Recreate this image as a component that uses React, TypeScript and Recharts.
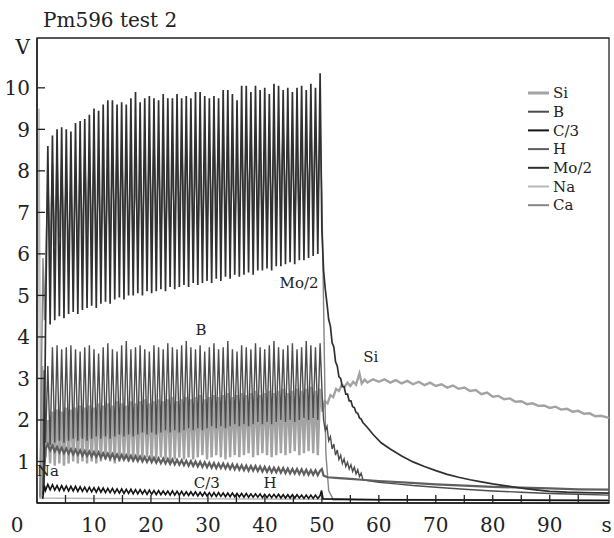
import React from 'react';
import { LineChart, Line, XAxis, YAxis, ReferenceArea, ReferenceDot } from 'recharts';

const FONT = '"DejaVu Serif", serif';

// peak times of the pulsed part (0-50 s); every trough sits half a cycle before its peak
const CYCLE_T = [
  1.9, 2.71, 3.52, 4.33, 5.14, 5.95, 6.76, 7.57, 8.38, 9.19,
  10.0, 10.81, 11.62, 12.43, 13.24, 14.05, 14.86, 15.67, 16.48, 17.29,
  18.1, 18.91, 19.72, 20.53, 21.34, 22.15, 22.96, 23.77, 24.58, 25.39,
  26.2, 27.01, 27.82, 28.63, 29.44, 30.25, 31.06, 31.87, 32.68, 33.49,
  34.3, 35.11, 35.92, 36.73, 37.54, 38.35, 39.16, 39.97, 40.78, 41.59,
  42.4, 43.21, 44.02, 44.83, 45.64, 46.45, 47.26, 48.07, 48.88, 49.69,
];
const HALF = 0.405;

// Mo/2
const MO2_HIGH = [
  8.6, 8.85, 9.0, 9.05, 9.0, 8.95, 9.15, 9.2, 9.25, 9.35,
  9.5, 9.45, 9.6, 9.7, 9.7, 9.6, 9.65, 9.6, 9.75, 9.9,
  9.65, 9.75, 9.8, 9.75, 9.7, 9.85, 9.75, 9.75, 9.85, 9.75,
  9.8, 9.75, 9.9, 9.9, 9.8, 9.75, 9.8, 9.75, 9.95, 9.95,
  9.85, 9.7, 10.05, 10.05, 9.9, 10.05, 9.95, 10.0, 9.85, 10.1,
  10.05, 9.95, 10.0, 9.9, 10.0, 10.05, 9.95, 10.1, 10.0, 10.35,
];
const MO2_LOW = [
  4.2, 4.3, 4.4, 4.5, 4.45, 4.55, 4.6, 4.55, 4.65, 4.7,
  4.75, 4.7, 4.8, 4.85, 4.8, 4.9, 4.95, 4.9, 5.0, 5.0,
  5.05, 5.0, 5.1, 5.05, 5.1, 5.15, 5.1, 5.2, 5.15, 5.2,
  5.25, 5.2, 5.3, 5.25, 5.3, 5.35, 5.3, 5.4, 5.35, 5.45,
  5.4, 5.5, 5.45, 5.5, 5.55, 5.5, 5.6, 5.6, 5.65, 5.6,
  5.7, 5.7, 5.75, 5.8, 5.75, 5.85, 5.85, 5.9, 5.95, 6.0,
];
const MO2_HEAD: [number, number][] = [[1.2, 0.3]];
const MO2_TAIL: [number, number][] = [
  [50.0, 6.6], [50.3, 5.6], [50.6, 5.15], [50.9, 4.8], [51.2, 4.42], [51.5, 4.26],
  [51.8, 3.86], [52.1, 3.76], [52.4, 3.4], [52.7, 3.3], [53.0, 3.04], [53.3, 3.0],
  [53.6, 2.8], [53.9, 2.8], [54.2, 2.62], [54.5, 2.62], [54.8, 2.46], [55.1, 2.46],
  [55.4, 2.32], [55.7, 2.3], [56.0, 2.18], [56.3, 2.16], [56.6, 2.05], [56.9, 2.02],
  [57.2, 1.94], [58, 1.82], [59, 1.65], [60.4, 1.45], [62, 1.3], [64, 1.13],
  [66, 0.99], [68, 0.88], [70, 0.78], [72, 0.69], [74, 0.62], [76, 0.56],
  [78, 0.51], [80, 0.46], [82, 0.42], [84, 0.38], [86, 0.34], [88, 0.31],
  [90, 0.28], [93, 0.26], [96, 0.25], [100.4, 0.24],
];

// Ca
const CA_HIGH = [
  7.9, 8.2, 8.4, 8.3, 8.0, 7.8, 7.9, 8.2, 8.5, 8.6,
  8.4, 8.1, 7.9, 8.0, 8.3, 8.6, 8.7, 8.5, 8.2, 8.0,
  8.1, 8.4, 8.7, 8.8, 8.6, 8.3, 8.1, 8.2, 8.5, 8.8,
  8.9, 8.7, 8.4, 8.2, 8.3, 8.6, 8.9, 9.0, 8.8, 8.5,
  8.3, 8.4, 8.7, 9.0, 9.1, 8.9, 8.6, 8.4, 8.5, 8.8,
  9.1, 9.2, 9.0, 8.7, 8.5, 8.6, 8.9, 9.2, 9.2, 9.0,
];
const CA_LOW = [
  5.6, 5.9, 6.2, 6.4, 6.2, 5.9, 5.8, 6.0, 6.3, 6.5,
  6.4, 6.1, 5.9, 6.0, 6.3, 6.6, 6.7, 6.5, 6.2, 6.0,
  6.1, 6.4, 6.7, 6.8, 6.6, 6.3, 6.1, 6.2, 6.5, 6.8,
  6.9, 6.7, 6.4, 6.2, 6.3, 6.6, 6.9, 7.0, 6.8, 6.5,
  6.3, 6.4, 6.7, 7.0, 7.1, 6.9, 6.6, 6.4, 6.5, 6.8,
  7.1, 7.2, 7.0, 6.7, 6.5, 6.6, 6.9, 7.2, 7.2, 7.0,
];
const CA_HEAD: [number, number][] = [[0.5, 0.15], [1.05, 5.9], [1.3, 4.4]];
const CA_TAIL: [number, number][] = [[50.0, 7.4], [50.3, 4.8], [50.7, 1.2], [51.2, 0.3], [52, 0.08], [100.4, 0.06]];

// B
const B_HIGH = [
  3.3, 3.75, 3.8, 3.7, 3.75, 3.8, 3.7, 3.65, 3.75, 3.8,
  3.7, 3.6, 3.75, 3.85, 3.7, 3.65, 3.8, 3.9, 3.7, 3.75,
  3.8, 3.7, 3.65, 3.8, 3.75, 3.7, 3.85, 3.75, 3.7, 3.8,
  3.9, 3.75, 3.7, 3.8, 3.65, 3.75, 3.85, 3.7, 3.75, 3.9,
  3.7, 3.65, 3.8, 3.75, 3.7, 3.85, 3.75, 3.7, 3.8, 3.9,
  3.75, 3.7, 3.8, 3.85, 3.7, 3.75, 3.9, 3.8, 3.75, 3.85,
];
const B_LOW = [
  1.45, 1.4, 1.45, 1.5, 1.45, 1.5, 1.55, 1.5, 1.55, 1.5,
  1.55, 1.6, 1.55, 1.6, 1.55, 1.6, 1.65, 1.6, 1.65, 1.6,
  1.65, 1.7, 1.65, 1.7, 1.65, 1.7, 1.75, 1.7, 1.75, 1.7,
  1.75, 1.8, 1.75, 1.8, 1.75, 1.8, 1.85, 1.8, 1.85, 1.8,
  1.85, 1.9, 1.85, 1.9, 1.85, 1.9, 1.95, 1.9, 1.95, 1.9,
  1.95, 2.0, 1.95, 2.0, 1.95, 2.0, 2.05, 2.0, 2.05, 2.0,
];
const B_HEAD: [number, number][] = [[1.0, 0.2], [1.25, 3.2]];
const B_TAIL: [number, number][] = [
  [50.05, 2.6], [50.3, 2.0], [50.6, 1.75], [50.9, 1.85], [51.2, 1.5], [51.5, 1.6],
  [51.8, 1.3], [52.1, 1.42], [52.4, 1.15], [52.7, 1.28], [53.0, 1.05], [53.3, 1.15],
  [53.6, 0.95], [53.9, 1.06], [54.2, 0.88], [54.5, 0.98], [54.8, 0.82], [55.1, 0.92],
  [55.4, 0.76], [55.7, 0.86], [56.0, 0.7], [56.3, 0.8], [56.6, 0.64], [56.9, 0.72],
  [57.2, 0.56], [58, 0.54], [60, 0.5], [63, 0.46], [66, 0.42], [70, 0.38],
  [75, 0.33], [80, 0.29], [85, 0.26], [90, 0.23], [95, 0.21], [100.4, 0.19],
];

// Si
const SI_HIGH = [
  2.0, 2.2, 2.25, 2.2, 2.3, 2.25, 2.3, 2.35, 2.3, 2.35,
  2.3, 2.4, 2.35, 2.4, 2.35, 2.45, 2.4, 2.35, 2.45, 2.4,
  2.45, 2.5, 2.4, 2.45, 2.5, 2.45, 2.5, 2.55, 2.45, 2.5,
  2.55, 2.5, 2.55, 2.6, 2.5, 2.55, 2.6, 2.55, 2.6, 2.65,
  2.55, 2.6, 2.65, 2.6, 2.65, 2.7, 2.6, 2.65, 2.7, 2.65,
  2.7, 2.75, 2.65, 2.7, 2.75, 2.7, 2.75, 2.8, 2.7, 2.75,
];
const SI_LOW = [
  1.1, 0.95, 0.9, 0.95, 0.9, 0.95, 1.0, 0.95, 1.0, 0.95,
  1.0, 0.95, 1.0, 1.05, 1.0, 0.95, 1.0, 1.05, 1.0, 1.05,
  1.0, 1.05, 1.1, 1.0, 1.05, 1.1, 1.05, 1.0, 1.05, 1.1,
  1.05, 1.1, 1.05, 1.1, 1.15, 1.05, 1.1, 1.15, 1.1, 1.05,
  1.1, 1.15, 1.1, 1.15, 1.2, 1.1, 1.15, 1.2, 1.15, 1.1,
  1.15, 1.2, 1.15, 1.2, 1.25, 1.15, 1.2, 1.25, 1.2, 1.15,
];
const SI_HEAD: [number, number][] = [[0.6, 0.1], [0.9, 3.3], [1.2, 1.4]];
const SI_TAIL: [number, number][] = [
  [50.1, 2.2], [50.5, 2.45], [51, 2.4], [51.5, 2.6], [52, 2.55], [52.5, 2.75],
  [53, 2.7], [53.5, 2.85], [54, 2.8], [54.5, 2.9], [55, 2.82], [55.5, 2.92],
  [56, 2.85], [56.6, 3.12], [57, 2.88], [57.5, 2.97], [58, 2.9], [59, 2.98],
  [60, 2.92], [61, 2.98], [62, 2.9], [63, 2.96], [64, 2.88], [65, 2.94],
  [66, 2.86], [67, 2.92], [68, 2.84], [69, 2.9], [70, 2.82], [71, 2.86],
  [72, 2.78], [73, 2.83], [74, 2.75], [75, 2.78], [76, 2.7], [77, 2.72],
  [78, 2.62], [79, 2.66], [80, 2.56], [81, 2.58], [82, 2.5], [83, 2.52],
  [84, 2.44], [85, 2.45], [86, 2.38], [87, 2.4], [88, 2.34], [89, 2.35],
  [90, 2.29], [91, 2.32], [92, 2.25], [93, 2.27], [94, 2.2], [95, 2.22],
  [96, 2.15], [97, 2.16], [98, 2.09], [99, 2.1], [100.4, 2.05],
];

// H
const H_HIGH = [
  1.42, 1.38, 1.35, 1.33, 1.31, 1.3, 1.28, 1.27, 1.25, 1.24,
  1.23, 1.22, 1.2, 1.19, 1.18, 1.17, 1.16, 1.15, 1.14, 1.13,
  1.12, 1.11, 1.1, 1.09, 1.08, 1.07, 1.06, 1.05, 1.04, 1.03,
  1.02, 1.01, 1.0, 0.99, 0.98, 0.97, 0.96, 0.95, 0.95, 0.94,
  0.93, 0.92, 0.91, 0.9, 0.89, 0.89, 0.88, 0.87, 0.86, 0.85,
  0.85, 0.84, 0.83, 0.82, 0.82, 0.81, 0.8, 0.79, 0.79, 0.78,
];
const H_LOW = [
  1.3, 1.27, 1.24, 1.22, 1.2, 1.19, 1.17, 1.16, 1.14, 1.13,
  1.12, 1.11, 1.09, 1.08, 1.07, 1.06, 1.05, 1.04, 1.03, 1.02,
  1.01, 1.0, 0.99, 0.98, 0.97, 0.96, 0.95, 0.94, 0.93, 0.92,
  0.91, 0.9, 0.89, 0.88, 0.87, 0.86, 0.85, 0.84, 0.84, 0.83,
  0.82, 0.81, 0.8, 0.79, 0.78, 0.78, 0.77, 0.76, 0.75, 0.74,
  0.74, 0.73, 0.72, 0.71, 0.71, 0.7, 0.69, 0.68, 0.68, 0.67,
];
const H_HEAD: [number, number][] = [[1.1, 0.3]];
const H_TAIL: [number, number][] = [
  [50.0, 0.82], [50.3, 0.66], [51, 0.62], [53, 0.6], [55, 0.58], [57, 0.56],
  [60, 0.53], [65, 0.49], [70, 0.45], [75, 0.42], [80, 0.39], [85, 0.37],
  [90, 0.35], [95, 0.33], [100.4, 0.32],
];

// C/3
const C3_HIGH = [
  0.45, 0.44, 0.42, 0.42, 0.41, 0.4, 0.4, 0.39, 0.38, 0.38,
  0.37, 0.37, 0.36, 0.35, 0.35, 0.34, 0.34, 0.33, 0.33, 0.32,
  0.32, 0.31, 0.31, 0.3, 0.3, 0.29, 0.29, 0.29, 0.28, 0.28,
  0.27, 0.27, 0.27, 0.26, 0.26, 0.25, 0.25, 0.25, 0.24, 0.24,
  0.24, 0.23, 0.23, 0.23, 0.22, 0.22, 0.22, 0.21, 0.21, 0.21,
  0.21, 0.2, 0.2, 0.2, 0.2, 0.19, 0.19, 0.19, 0.19, 0.18,
];
const C3_LOW = [
  0.3, 0.32, 0.31, 0.3, 0.3, 0.29, 0.29, 0.28, 0.28, 0.27,
  0.27, 0.26, 0.26, 0.25, 0.25, 0.24, 0.24, 0.23, 0.23, 0.22,
  0.22, 0.22, 0.21, 0.21, 0.2, 0.2, 0.2, 0.19, 0.19, 0.19,
  0.18, 0.18, 0.18, 0.17, 0.17, 0.17, 0.16, 0.16, 0.16, 0.15,
  0.15, 0.15, 0.15, 0.14, 0.14, 0.14, 0.14, 0.13, 0.13, 0.13,
  0.13, 0.12, 0.12, 0.12, 0.12, 0.12, 0.11, 0.11, 0.11, 0.11,
];
const C3_HEAD: [number, number][] = [[1.0, 0.1], [1.3, 0.42]];
const C3_TAIL: [number, number][] = [[49.95, 0.3], [50.2, 0.1], [60, 0.08], [100.4, 0.06]];

// Na (no pulsing, only the start-up spike)
const NA_POINTS: [number, number][] = [
  [0, 0.1], [0.35, 9.5], [0.7, 0.2], [1.0, 0.12], [10, 0.11], [30, 0.1], [50, 0.09], [75, 0.08], [100.4, 0.07],
];

const LEGEND_NAMES = ['Si', 'B', 'C/3', 'H', 'Mo/2', 'Na', 'Ca'];
const LEGEND_COLORS = ['#a3a3a3', '#4d4d4d', '#141414', '#5f5f5f', '#303030', '#b8b8b8', '#858585'];

const X_TICKS = [0, 5, 10, 15, 20, 25, 30, 35, 40, 45, 50, 55, 60, 65, 70, 75, 80, 85, 90, 95, 100];
const Y_TICKS = [1, 2, 3, 4, 5, 6, 7, 8, 9, 10, 11];

const NOTES = [
  { t: 46.0, v: 5.3, text: 'Mo/2' },
  { t: 28.8, v: 4.17, text: 'B' },
  { t: 58.6, v: 3.52, text: 'Si' },
  { t: 1.9, v: 0.77, text: 'Na' },
  { t: 29.8, v: 0.48, text: 'C/3' },
  { t: 40.9, v: 0.48, text: 'H' },
];

type Pt = { t: number; v: number };
const pairs = (list: [number, number][]): Pt[] => list.map(([t, v]) => ({ t, v }));
const pulses = (low: number[], high: number[]): Pt[] =>
  CYCLE_T.flatMap((t, i) => [
    { t: +(t - HALF).toFixed(3), v: low[i] },
    { t, v: high[i] },
  ]);
const build = (head: [number, number][], low: number[], high: number[], tail: [number, number][]) => [
  ...pairs(head),
  ...pulses(low, high),
  ...pairs(tail),
];

const SERIES = [
  { name: 'Na', data: pairs(NA_POINTS), color: '#b8b8b8', width: 1.4 },
  { name: 'Si', data: build(SI_HEAD, SI_LOW, SI_HIGH, SI_TAIL), color: '#a3a3a3', width: 2.4 },
  { name: 'Ca', data: build(CA_HEAD, CA_LOW, CA_HIGH, CA_TAIL), color: '#858585', width: 1.4 },
  { name: 'B', data: build(B_HEAD, B_LOW, B_HIGH, B_TAIL), color: '#4d4d4d', width: 1.4 },
  { name: 'H', data: build(H_HEAD, H_LOW, H_HIGH, H_TAIL), color: '#5f5f5f', width: 2.2 },
  { name: 'Mo/2', data: build(MO2_HEAD, MO2_LOW, MO2_HIGH, MO2_TAIL), color: '#303030', width: 1.7 },
  { name: 'C/3', data: build(C3_HEAD, C3_LOW, C3_HIGH, C3_TAIL), color: '#141414', width: 1.6 },
];

const XTick = (props: any) => {
  const { x, y, payload } = props;
  const v = payload.value;
  const label = v === 100 ? 's' : v % 10 === 0 ? String(v) : '';
  return (
    <g>
      {v > 0 && v < 100 && <line x1={x} y1={y} x2={x} y2={y - 8} stroke="#222" strokeWidth={1.3} />}
      {label && (
        <text x={v === 0 ? x - 20 : x} y={y + 29} textAnchor="middle" fontSize={20} fontFamily={FONT} fill="#222">
          {label}
        </text>
      )}
    </g>
  );
};

const YTick = (props: any) => {
  const { x, y, payload } = props;
  const v = payload.value;
  return (
    <g>
      {v < 11 && <line x1={x} y1={y} x2={x + 8} y2={y} stroke="#222" strokeWidth={1.3} />}
      <text x={x - 7} y={y} dy="0.36em" textAnchor="end" fontSize={20} fontFamily={FONT} fill="#222">
        {v === 11 ? 'V' : v}
      </text>
    </g>
  );
};

export default function App() {
  return (
    <div style={{ position: 'absolute', left: 0, top: 0, width: 614, height: 538, background: '#fff' }}>
      <LineChart width={614} height={538} margin={{ top: 38, right: 5, left: 0, bottom: 5 }}>
        <XAxis
          type="number"
          dataKey="t"
          domain={[0, 100.4]}
          ticks={X_TICKS}
          interval={0}
          height={30}
          tickSize={0}
          tickMargin={0}
          tickLine={false}
          tick={<XTick />}
          axisLine={{ stroke: '#222', strokeWidth: 1.5 }}
          allowDataOverflow
        />
        <YAxis
          type="number"
          dataKey="v"
          domain={[0, 11.2]}
          ticks={Y_TICKS}
          interval={0}
          width={37}
          tickSize={0}
          tickMargin={0}
          tickLine={false}
          tick={<YTick />}
          axisLine={{ stroke: '#222', strokeWidth: 1.5 }}
          allowDataOverflow
        />
        <ReferenceArea x1={0} x2={100.4} y1={0} y2={11.2} fill="none" stroke="#222" strokeWidth={1.3} ifOverflow="visible" />
        {SERIES.map(s => (
          <Line
            key={s.name}
            data={s.data}
            dataKey="v"
            name={s.name}
            type="linear"
            stroke={s.color}
            strokeWidth={s.width}
            dot={false}
            activeDot={false}
            isAnimationActive={false}
          />
        ))}
        {NOTES.map(n => (
          <ReferenceDot
            key={n.text}
            x={n.t}
            y={n.v}
            r={0}
            fill="none"
            stroke="none"
            label={{ value: n.text, position: 'center', fill: '#222', fontSize: 15, fontFamily: FONT }}
          />
        ))}
      </LineChart>
      <svg width={614} height={538} style={{ position: 'absolute', left: 0, top: 0, pointerEvents: 'none' }}>
        <text x={43} y={27} fontSize={20} fontFamily={FONT} fill="#222">
          Pm596 test 2
        </text>
        <rect x={524} y={82} width={44} height={134} fill="#fff" opacity={0.6} />
        {LEGEND_NAMES.map((name, i) => (
          <g key={name}>
            <line
              x1={528}
              x2={549}
              y1={93 + i * 18.7}
              y2={93 + i * 18.7}
              stroke={LEGEND_COLORS[i]}
              strokeWidth={i === 0 ? 3 : 2}
            />
            <text x={553} y={93 + i * 18.7} dy="0.35em" fontSize={15} fontFamily={FONT} fill="#222">
              {name}
            </text>
          </g>
        ))}
      </svg>
    </div>
  );
}
